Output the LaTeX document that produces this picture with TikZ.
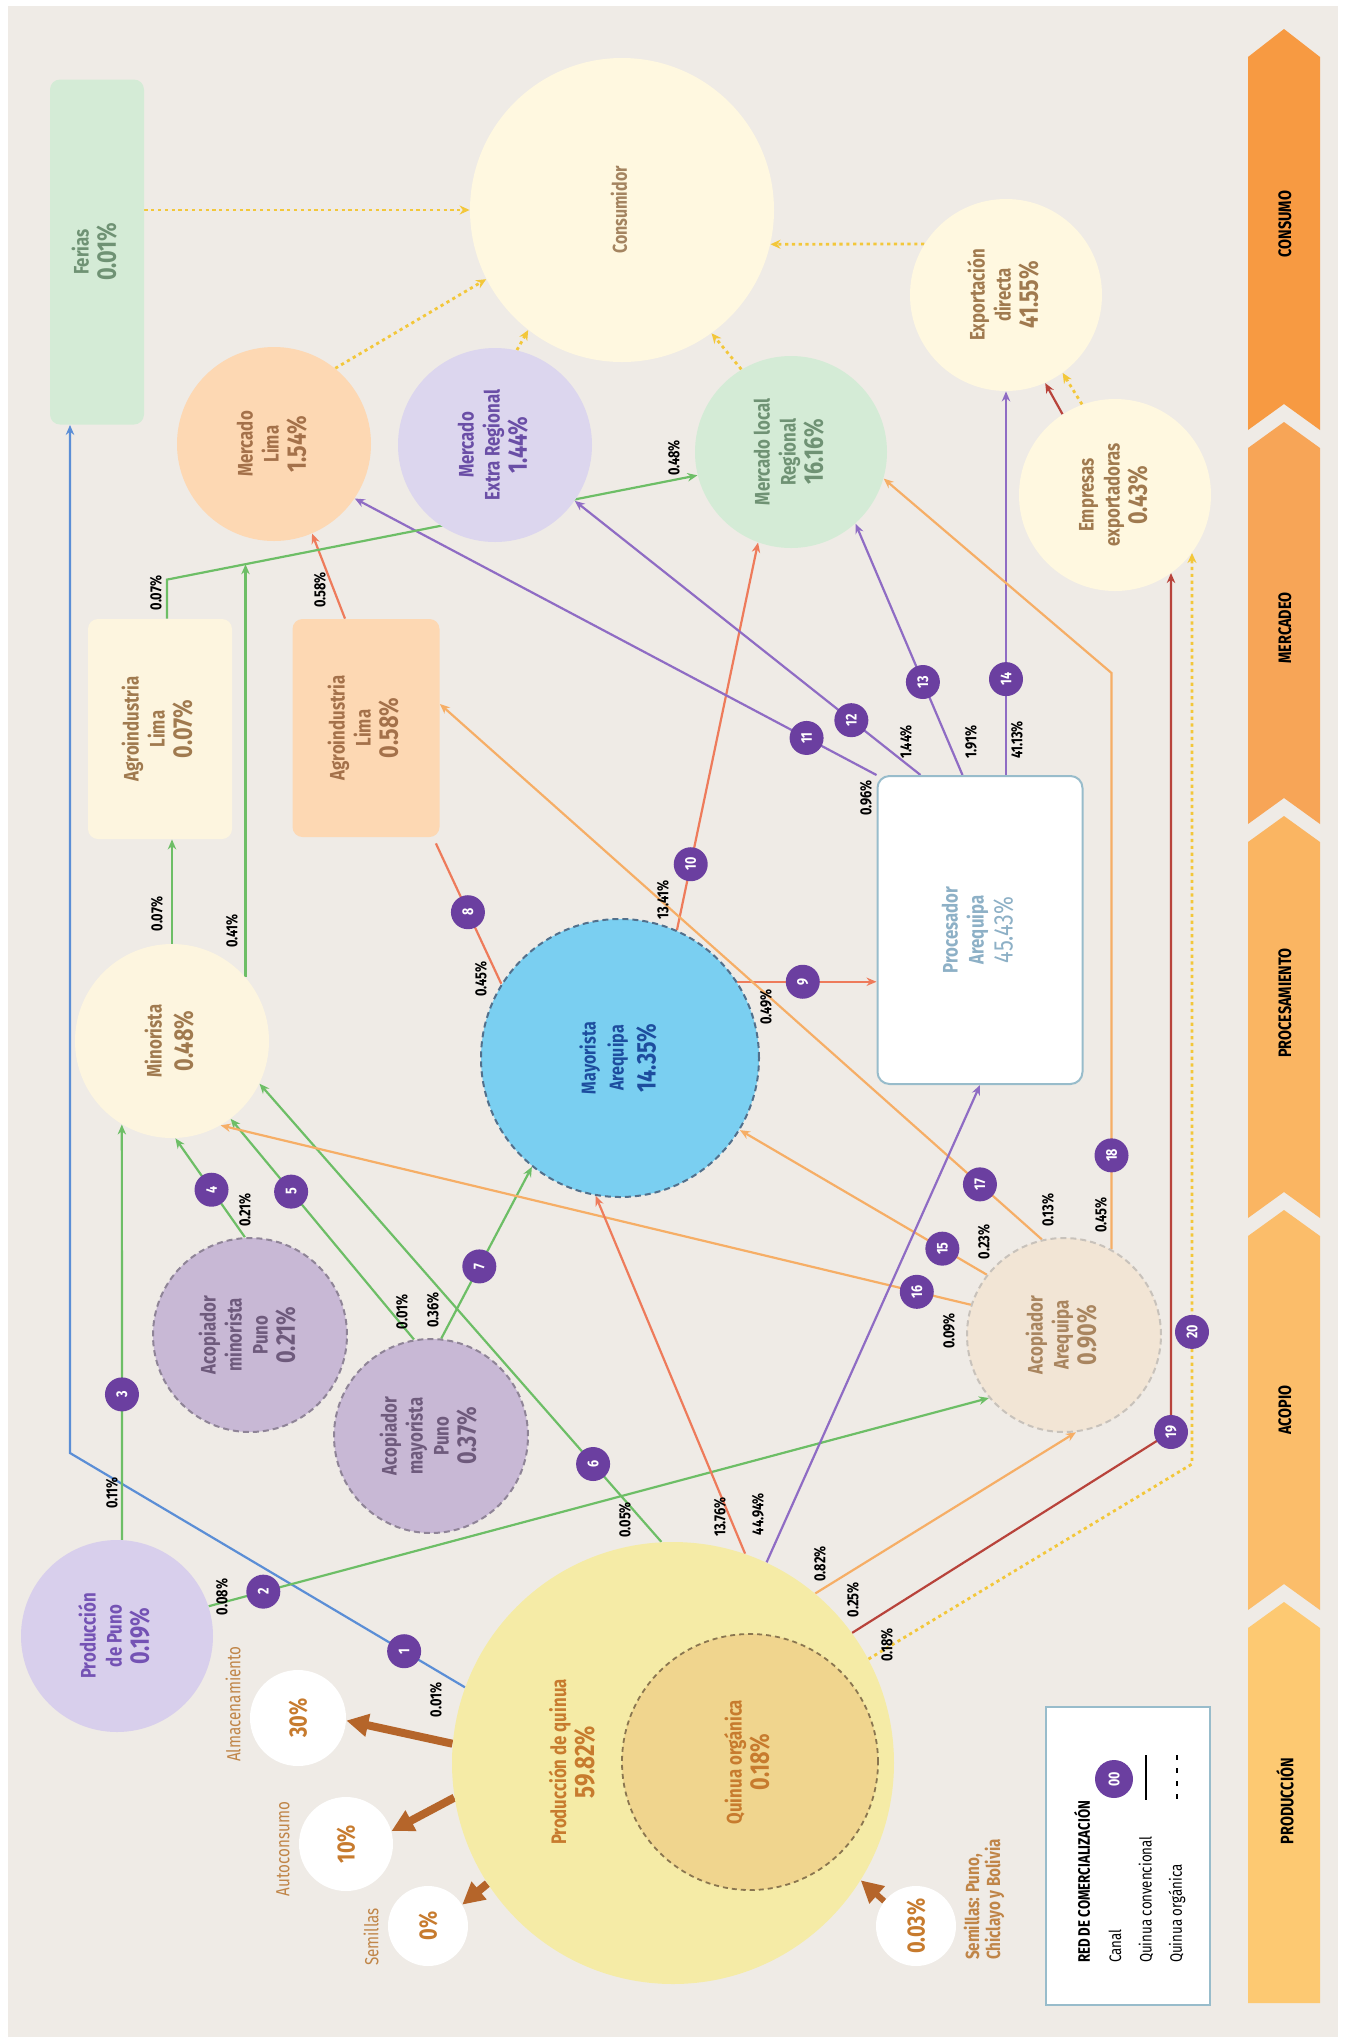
\documentclass[tikz,border=0pt]{standalone}
\usepackage{graphicx}
\usepackage{fontspec}
\setmainfont{Fira Sans}[FakeStretch=0.8]
\usetikzlibrary{arrows.meta,calc}
\pgfdeclarelayer{back}
\pgfdeclarelayer{edges}
\pgfsetlayers{back,edges,main}

\definecolor{bgBeige}{HTML}{EFEBE6}
\definecolor{badgeP}{HTML}{6B3FA0}
\definecolor{lnBlue}{HTML}{5B8ED6}
\definecolor{lnGreen}{HTML}{6DBE66}
\definecolor{lnSalmon}{HTML}{EE7B5B}
\definecolor{lnPurple}{HTML}{8F6CC4}
\definecolor{lnOrange}{HTML}{F6AE66}
\definecolor{lnDark}{HTML}{B8433B}
\definecolor{lnYellow}{HTML}{F3C73A}
\definecolor{brownArr}{HTML}{B5652A}
\definecolor{sideText}{HTML}{C08548}
\definecolor{consFill}{HTML}{FFF8E0}
\definecolor{consText}{HTML}{A48460}
\definecolor{greenFill}{HTML}{D4EBD6}
\definecolor{greenText}{HTML}{6F9274}
\definecolor{lavFill}{HTML}{DCD6EE}
\definecolor{lavText}{HTML}{6A4EA6}
\definecolor{peachFill}{HTML}{FDD8B3}
\definecolor{peachText}{HTML}{A4714A}
\definecolor{creamFill}{HTML}{FDF5DF}
\definecolor{creamText}{HTML}{A07A4F}
\definecolor{mayFill}{HTML}{7ACFF1}
\definecolor{mayText}{HTML}{1D4D9E}
\definecolor{mayBorder}{HTML}{52708C}
\definecolor{procBorder}{HTML}{98BCCB}
\definecolor{procText}{HTML}{8DB0C6}
\definecolor{lilacFill}{HTML}{C8B8D5}
\definecolor{lilacText}{HTML}{6E5A7C}
\definecolor{lilacBorder}{HTML}{8F8497}
\definecolor{acoFill}{HTML}{F2E5D5}
\definecolor{acoText}{HTML}{A9855F}
\definecolor{acoBorder}{HTML}{C8C2BB}
\definecolor{punoFill}{HTML}{D8CFEC}
\definecolor{punoText}{HTML}{7452B4}
\definecolor{quinFill}{HTML}{F5EBA6}
\definecolor{quinText}{HTML}{C77B2E}
\definecolor{orgFill}{HTML}{F0D58E}
\definecolor{orgBorder}{HTML}{8A7650}
\definecolor{stA}{HTML}{F79A42}
\definecolor{stB}{HTML}{F7A557}
\definecolor{stC}{HTML}{FAB562}
\definecolor{stD}{HTML}{FBBD6A}
\definecolor{stE}{HTML}{FDC972}

% vertical (bottom-to-top) multi-line text
\newcommand\vt[1]{\rotatebox{90}{\begin{tabular}{@{}c@{}}#1\end{tabular}}}
\newcommand\bigpc[1]{{\fontsize{13.5}{15}\selectfont #1}}

\begin{document}
\begin{tikzpicture}[x=0.5pt,y=-0.5pt,
  circ/.style={circle, inner sep=0pt, minimum size=#1, font=\bfseries\fontsize{10.5}{13}\selectfont},
  boxn/.style={rectangle, rounded corners=5pt, inner sep=0pt, font=\bfseries\fontsize{10.5}{13}\selectfont},
  dashb/.style={draw=#1, line width=1pt, dash pattern=on 3pt off 2pt},
  ln/.style={line width=1.1pt, -{Stealth[length=5pt,width=4.2pt]}},
  plain/.style={line width=1.1pt},
  dotln/.style={line width=1.4pt, lnYellow, dash pattern=on 1.6pt off 1.8pt, -{Stealth[length=5pt,width=4.5pt]}},
  badge/.style={circle, fill=badgeP, inner sep=0pt, minimum size=17pt, text=white, font=\bfseries\fontsize{7.8}{8}\selectfont, rotate=90},
  pl/.style={rotate=90, inner sep=0.5pt, font=\bfseries\fontsize{8}{9}\selectfont, text=black},
  bigarrow/.style={line width=4pt, brownArr, -{Triangle[length=11pt,width=11pt]}},
  stagelbl/.style={rotate=90, font=\bfseries\fontsize{9}{10}\selectfont, text=black},
  sidelbl/.style={rotate=90, font=\fontsize{9.5}{10}\selectfont, text=sideText},
  legtxt/.style={rotate=90, anchor=west, font=\fontsize{8.3}{9}\selectfont}
]
\useasboundingbox (0,0) rectangle (1345,2042);

% ---------- background and stage band ----------
\begin{pgfonlayer}{back}
\fill[white] (0,0) rectangle (1345,2042);
\fill[bgBeige] (8,6) rectangle (1338,2037);
\fill[stA] (1248,57) -- (1284,29) -- (1320,57) -- (1320,430) -- (1284,404) -- (1248,430) -- cycle;
\fill[stB] (1248,448) -- (1284,422) -- (1320,448) -- (1320,824) -- (1284,798) -- (1248,824) -- cycle;
\fill[stC] (1248,842) -- (1284,816) -- (1320,842) -- (1320,1218) -- (1284,1192) -- (1248,1218) -- cycle;
\fill[stD] (1248,1236) -- (1284,1210) -- (1320,1236) -- (1320,1610) -- (1284,1584) -- (1248,1610) -- cycle;
\fill[stE] (1248,1628) -- (1284,1602) -- (1320,1628) -- (1320,2003) -- (1248,2003) -- cycle;
\end{pgfonlayer}
\node[stagelbl] (s1) at (1285,224) {CONSUMO};
\node[stagelbl] (s2) at (1285,628) {MERCADEO};
\node[stagelbl] (s3) at (1285,1003) {PROCESAMIENTO};
\node[stagelbl] (s4) at (1285,1410) {ACOPIO};
\node[stagelbl] (s5) at (1285,1801) {PRODUCCIÓN};

% ---------- consumption ----------
\node[boxn, fill=greenFill, text=greenText, minimum width=47pt, minimum height=172.5pt] (ferias) at (97,252) {\vt{Ferias\\ \bigpc{0.01\%}}};
\node[circ=152pt, fill=consFill, text=consText, font=\bfseries\fontsize{10}{12}\selectfont] (cons) at (622,210) {\vt{Consumidor}};
\node[circ=96pt, fill=consFill, text=creamText] (export) at (1006,295) {\vt{Exportación\\ directa\\ \bigpc{41.55\%}}};

% ---------- marketing ----------
\node[circ=96pt, fill=consFill, text=creamText] (empresas) at (1115,495) {\vt{Empresas\\ exportadoras\\ \bigpc{0.43\%}}};
\node[circ=96pt, fill=greenFill, text=greenText] (local) at (791,452) {\vt{Mercado local\\ Regional\\ \bigpc{16.16\%}}};
\node[circ=97pt, fill=lavFill, text=lavText] (extra) at (495,445) {\vt{Mercado\\ Extra Regional\\ \bigpc{1.44\%}}};
\node[circ=97pt, fill=peachFill, text=peachText] (lima) at (274,444) {\vt{Mercado\\ Lima\\ \bigpc{1.54\%}}};
\node[boxn, fill=creamFill, text=creamText, minimum width=72pt, minimum height=110pt] (agro1) at (160,729) {\vt{Agroindustria\\ Lima\\ \bigpc{0.07\%}}};
\node[boxn, fill=peachFill, text=peachText, minimum width=73.5pt, minimum height=109pt] (agro2) at (366,728) {\vt{Agroindustria\\ Lima\\ \bigpc{0.58\%}}};

% ---------- processing ----------
\node[circ=97pt, fill=creamFill, text=creamText] (minor) at (172,1041) {\vt{Minorista\\[2pt] \bigpc{0.48\%}}};
\node[circ=139pt, fill=mayFill, text=mayText, dashb=mayBorder, font=\bfseries\fontsize{10}{14}\selectfont] (mayor) at (620,1058) {\vt{Mayorista\\ Arequipa\\[2pt] \bigpc{14.35\%}}};
\node[boxn, rounded corners=6pt, fill=white, draw=procBorder, line width=1pt, text=procText, minimum width=102.5pt, minimum height=154pt] (proc) at (980,930) {\vt{Procesador\\ Arequipa\\[1pt] {\mdseries\bigpc{45.43\%}}}};

% ---------- collection ----------
\node[circ=97pt, fill=lilacFill, text=lilacText, dashb=lilacBorder] (acmin) at (250,1335) {\vt{Acopiador\\ minorista\\ Puno\\ \bigpc{0.21\%}}};
\node[circ=97pt, fill=lilacFill, text=lilacText, dashb=lilacBorder] (acmay) at (431,1436) {\vt{Acopiador\\ mayorista\\ Puno\\ \bigpc{0.37\%}}};
\node[circ=97pt, fill=acoFill, text=acoText, dashb=acoBorder] (acoaq) at (1064,1335) {\vt{Acopiador\\ Arequipa\\ \bigpc{0.90\%}}};

% ---------- production ----------
\node[circ=96pt, fill=punoFill, text=punoText] (puno) at (117,1636) {\vt{Producción\\ de Puno\\ \bigpc{0.19\%}}};
\node[circ=221pt, fill=quinFill] (quinua) at (673,1763) {};
\node[circ=128pt, fill=orgFill, draw=orgBorder, line width=0.9pt, dash pattern=on 2.5pt off 2pt, text=quinText] (organic) at (750,1762) {\vt{Quinua orgánica\\ \bigpc{0.18\%}}};
\node[font=\bfseries\fontsize{10.5}{13}\selectfont, text=quinText, inner sep=0pt] (tquin) at (575,1762) {\vt{Producción de quinua\\ {\fontsize{14}{16}\selectfont 59.82\%}}};
\node[circ=48pt, fill=white, text=quinText, font=\bfseries\fontsize{12.5}{14}\selectfont] (alm) at (298,1718) {\rotatebox{90}{30\%}};
\node[circ=47pt, fill=white, text=quinText, font=\bfseries\fontsize{12.5}{14}\selectfont] (auto) at (346,1844) {\rotatebox{90}{10\%}};
\node[circ=40pt, fill=white, text=quinText, font=\bfseries\fontsize{12.5}{14}\selectfont] (sem) at (428,1926) {\rotatebox{90}{0\%}};
\node[circ=40pt, fill=white, text=quinText, font=\bfseries\fontsize{12.5}{14}\selectfont] (imp) at (916,1926) {\rotatebox{90}{0.03\%}};
\node[sidelbl] (talm) at (233,1704) {Almacenamiento};
\node[sidelbl] (tauto) at (283,1849) {Autoconsumo};
\node[sidelbl] (tsem) at (371,1937) {Semillas};
\node[rotate=90, anchor=west, align=left, font=\bfseries\fontsize{9.5}{10.5}\selectfont, text=sideText] (timp) at (984,1967) {Semillas: Puno,\\Chiclayo y Bolivia};

% ---------- legend ----------
\node[draw=procBorder, line width=1pt, fill=white, minimum width=82pt, minimum height=149pt, inner sep=0pt] (legend) at (1128,1856) {};
\node[legtxt, font=\bfseries\fontsize{8.3}{9}\selectfont] (lg1) at (1082,1970) {RED DE COMERCIALIZACIÓN};
\node[legtxt] (lg2) at (1115,1970) {Canal};
\node[legtxt] (lg3) at (1146,1970) {Quinua convencional};
\node[legtxt] (lg4) at (1177,1970) {Quinua orgánica};
\node[badge, minimum size=19pt] (lgb) at (1114,1779) {00};
\draw[line width=1pt] (1146,1755) -- (1146,1800);
\draw[line width=1.3pt, dash pattern=on 2.5pt off 4pt] (1177,1755) -- (1177,1800);

% ---------- channels ----------
\begin{pgfonlayer}{edges}
\coordinate (k1) at (70,1453);
\draw[ln, lnBlue] (quinua.160) -- node[badge, pos=0.154] (b1) {1} (k1) -- (k1 |- ferias.south);
\draw[ln, lnGreen] (puno.18) -- node[badge, pos=0.07] (b2) {2} (acoaq.220);
\draw[ln, lnGreen] (puno.87) -- node[badge, pos=0.35] (b3) {3} (minor.239);
\draw[ln, lnGreen] (acmin.93) -- node[badge, pos=0.48] (b4) {4} (minor.272);
\draw[ln, lnGreen] (acmay.100) -- node[badge, pos=0.67] (b5) {5} (minor.307);
\draw[ln, lnGreen] (quinua.93) -- node[badge, pos=0.17] (b6) {6} (minor.334);
\draw[ln, lnGreen] (acmay.84) -- node[badge, pos=0.42] (b7) {7} (mayor.231);
\draw[plain, lnSalmon] (mayor.148) -- node[badge, pos=0.51] (b8) {8} ($(agro2.south east)+(-4,6)$);
\draw[ln, lnSalmon] ($(agro2.north)+(-21,0)$) -- (lima.293);
\draw[ln, lnSalmon] (mayor.33) -- node[badge, pos=0.47] (b9) {9} (mayor.33 -| proc.west);
\draw[ln, lnSalmon] (mayor.66) -- node[badge, pos=0.17] (b10) {10} (local.250);
\draw[ln, lnPurple] (proc.north west) -- node[badge, pos=0.134] (b11) {11} (lima.326);
\draw[ln, lnPurple] ($(proc.north west)+(44,0)$) -- node[badge, pos=0.2] (b12) {12} (extra.325);
\draw[ln, lnPurple] ($(proc.north west)+(86,0)$) -- node[badge, pos=0.37] (b13) {13} (local.312);
\draw[ln, lnPurple] (export.south |- proc.north) -- node[badge, pos=0.25] (b14) {14} (export.south);
\draw[ln, lnOrange] (acoaq.142) -- node[badge, pos=0.18] (b15) {15} (mayor.329);
\draw[ln, lnOrange] (acoaq.162) -- node[badge, pos=0.072] (b16) {16} (minor.300);
\draw[ln, lnOrange] (acoaq.103) -- node[badge, pos=0.103] (b17) {17} ($(agro2.east)+(0,-24)$);
\draw[ln, lnOrange] (acoaq.61) -- node[badge, pos=0.163] (b18) {18} (acoaq.61 |- 0,673) -- (local.344);
\coordinate (k19) at (1171,1432);
\draw[ln, lnDark] (quinua.36) -- (k19) node[badge] (b19) {19} -- (k19 |- empresas.306);
\coordinate (k20) at (1192,1464);
\draw[dotln] (quinua.28) -- (k20) -- node[badge, pos=0.145] (b20) {20} (k20 |- empresas.323);

\draw[ln, lnSalmon] (quinua.71) -- (mayor.260);
\draw[ln, lnPurple] (quinua.65) -- (proc.south);
\draw[ln, lnOrange] (quinua.50) -- (acoaq.277);
\draw[ln, lnGreen] (minor.north) -- (minor.north |- agro1.south);
\draw[ln, lnGreen] ($(agro1.north)+(7,0)$) -- ++(0,-39) coordinate (k7) -- (local.194);
\coordinate (j) at ($(k7)!0.147!(local.194)$);
\draw[ln, lnGreen] (minor.41) -- (minor.41 |- j);

% flows into consumption
\draw[dotln] (ferias.east |- cons.west) -- (cons.west);
\draw[dotln] (lima.51) -- (cons.207);
\draw[dotln] (extra.77) -- (cons.232);
\draw[dotln] (local.121) -- (cons.306);
\draw[dotln] (export.148) -- (cons.-13);
\draw[dotln] (empresas.110) -- (export.306);
\draw[ln, lnDark] (empresas.123) -- (export.294);

% production outlets
\draw[bigarrow] (quinua.175) -- (alm.357);
\draw[bigarrow] (quinua.189) -- (auto.16);
\draw[bigarrow] (quinua.213) -- (sem.32);
\draw[bigarrow, line width=3pt] (imp.142) -- (quinua.328);
\end{pgfonlayer}

% ---------- share labels ----------
\node[pl] (p1) at (436,1700) {0.01\%};
\node[pl] (p2) at (222,1597) {0.08\%};
\node[pl] (p3) at (112,1493) {0.11\%};
\node[pl] (p4) at (245,1210) {0.21\%};
\node[pl] (p5) at (402,1312) {0.01\%};
\node[pl] (p6) at (625,1520) {0.05\%};
\node[pl] (p7) at (433,1310) {0.36\%};
\node[pl] (p8) at (481,979) {0.45\%};
\node[pl] (p9) at (766,1007) {0.49\%};
\node[pl] (p10) at (663,900) {13.41\%};
\node[pl] (p11) at (866,798) {0.96\%};
\node[pl] (p12) at (906,742) {1.44\%};
\node[pl] (p13) at (971,742) {1.91\%};
\node[pl] (p14) at (1017,740) {41.13\%};
\node[pl] (p15) at (984,1242) {0.23\%};
\node[pl] (p16) at (949,1331) {0.09\%};
\node[pl] (p17) at (1048,1210) {0.13\%};
\node[pl] (p18) at (1101,1215) {0.45\%};
\node[pl] (p19) at (853,1600) {0.25\%};
\node[pl] (p20) at (887,1645) {0.18\%};
\node[pl] (pa) at (720,1517) {13.76\%};
\node[pl] (pb) at (758,1514) {44.94\%};
\node[pl] (pc) at (820,1564) {0.82\%};
\node[pl] (pd) at (157,914) {0.07\%};
\node[pl] (pe) at (232,931) {0.41\%};
\node[pl] (pf) at (156,593) {0.07\%};
\node[pl] (pg) at (674,458) {0.48\%};
\node[pl] (ph) at (320,590) {0.58\%};
\end{tikzpicture}
\end{document}
